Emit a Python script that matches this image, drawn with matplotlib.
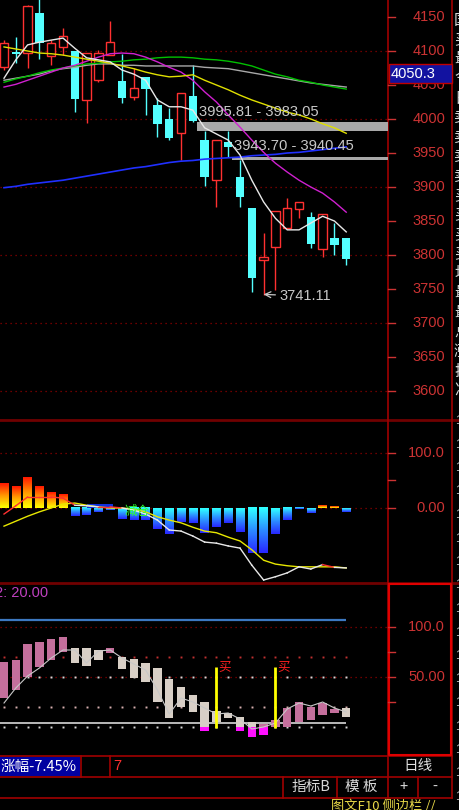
import numpy as np
import matplotlib
matplotlib.use('Agg')
import matplotlib.pyplot as plt
from matplotlib import transforms
from matplotlib.colors import LinearSegmentedColormap

W, H = 460, 810
CJK = ['Noto Sans CJK SC', 'DejaVu Sans']
NUM = 'Liberation Sans'

# daily candles
opens = [4076, 4099, 4097, 4156, 4093, 4106, 4100, 4028, 4057, 4094,
         4056, 4032, 4062, 4021, 4000, 3979, 4034, 3969, 3910, 3966,
         3915, 3869, 3793, 3812, 3840, 3868, 3856, 3809, 3825, 3825]
closes = [4112, 4096, 4166, 4112, 4112, 4122, 4029, 4097, 4097, 4113,
          4031, 4046, 4044, 3993, 3972, 4038, 3997, 3915, 3969, 3959,
          3885, 3766, 3797, 3865, 3869, 3878, 3816, 3860, 3815, 3794]
highs = [4116, 4121, 4168, 4185, 4116, 4134, 4100, 4097, 4101, 4144,
         4096, 4075, 4062, 4031, 4016, 4038, 4079, 3983.05, 3969, 3982,
         3940.45, 3869, 3832, 3865, 3884, 3878, 3863, 3860, 3847, 3825]
lows = [4072, 4082, 4075, 4088, 4079, 4094, 4010, 3994, 4054, 4094,
        4024, 4028, 4006, 3974, 3969, 3940, 3995.81, 3901, 3871, 3943.70,
        3871, 3746, 3741.11, 3749, 3840, 3854, 3810, 3797, 3800, 3785]

ma_white = [4060, 4087, 4109, 4113, 4116, 4119, 4104, 4090, 4087, 4084,
            4072, 4066, 4057, 4028, 4018, 4018, 4013, 3987, 3978, 3969,
            3947, 3910, 3878, 3854, 3837, 3837, 3847, 3857, 3850, 3834]
ma_yellow = [4106, 4103, 4100, 4097, 4096, 4094, 4091, 4088, 4085, 4082,
             4078, 4074, 4069, 4065, 4062, 4063, 4065, 4057, 4050, 4043,
             4035, 4028, 4022, 4016, 4010, 4006, 4000, 3993, 3987, 3979]
ma_magenta = [4047, 4051, 4057, 4063, 4069, 4075, 4079, 4085, 4091, 4096,
              4097, 4096, 4091, 4084, 4076, 4069, 4057, 4040, 4025, 4006,
              3988, 3969, 3951, 3935, 3922, 3910, 3900, 3891, 3878, 3863]
ma_green = [4054, 4059, 4063, 4068, 4072, 4075, 4078, 4081, 4082, 4084,
            4085, 4087, 4088, 4090, 4091, 4091, 4090, 4088, 4087, 4085,
            4082, 4078, 4072, 4066, 4062, 4057, 4054, 4050, 4047, 4044]
ma_gray = [4057, 4060, 4063, 4066, 4071, 4074, 4076, 4079, 4081, 4081,
           4079, 4079, 4078, 4078, 4078, 4078, 4078, 4076, 4075, 4074,
           4071, 4068, 4065, 4062, 4059, 4056, 4053, 4051, 4049, 4047]
ma_blue = [3899, 3901, 3904, 3906, 3908, 3910, 3913, 3916, 3919, 3922,
           3925, 3928, 3930, 3933, 3936, 3938, 3939, 3941, 3942, 3943,
           3944, 3946, 3947, 3948, 3950, 3951, 3953, 3955, 3957, 3959]

gap_idx = [16, 19]
gap_hi = [3995.81, 3943.70]
gap_lo = [3983.05, 3940.45]
low_idx = 22
cursor_price = '4050.3'
price_ticks = [4150, 4100, 4050, 4000, 3950, 3900, 3850, 3800, 3750, 3700, 3650, 3600]

# MACD-like panel
macd_bar = [45, 40, 56, 40, 29, 24, -15, -13, -7, -3, -20, -22, -22, -38, -47,
            -25, -27, -45, -34, -27, -43, -82, -82, -47, -22, -2, -9, 4, 2, -7]
dif = [-11, 4, 20, 20, 20, 18, 5, 4, 2, 2, 0, -4, -11, -22, -40,
       -42, -51, -62, -64, -69, -73, -104, -131, -125, -118, -107, -111, -103, -108, -109]
dea = [-33, -24, -15, -7, 0, 7, 9, 5, 2, 0, 0, -2, -7, -16, -22,
       -27, -35, -42, -45, -53, -60, -76, -95, -102, -105, -107, -107, -107, -107, -109]
blue_seg_x = [7.0, 9.2]
blue_seg_y = [8, 8]

# KDJ-like panel
kdj_top = [65, 67, 83, 85, 88, 90, 79, 79, 77, 79, 70, 68, 64, 59, 48,
           40, 32, 25, 16, 14, 10, 5, 3, 7, 19, 25, 20, 24, 18, 19]
kdj_bot = [29, 37, 50, 60, 67, 75, 64, 61, 67, 74, 58, 49, 45, 25, 9,
           20, 15, -4, 5, 9, -4, -10, -8, 0, 0, 5, 7, 12, 14, 10]
kdj_up = [1, 1, 1, 1, 1, 1, 0, 0, 0, 1, 0, 0, 0, 0, 0,
          0, 0, 0, 0, 0, 0, 0, 1, 1, 1, 1, 1, 1, 1, 0]
kdj_line = [24, 39, 51, 59, 69, 77, 77, 64, 76, 77, 69, 63, 57, 37, 13,
            29, 25, 19, 13, 14, 8, -2, 0, 4, 18, 24, 21, 25, 19, 15]
buy_idx = [18, 23]
kdj_ref_hi = 107
kdj_ref_lo = 4

RED = '#ff3030'
CYAN = '#54ffff'
AXRED = '#cc3333'
FRAME = '#a00000'
n = len(opens)
x = np.arange(n)
bw = 0.72
XLIM = (-0.34, 32.54)

fig = plt.figure(figsize=(W / 100, H / 100), dpi=100, facecolor='black')
bg = fig.add_axes([0, 0, 1, 1], label='bg')
bg.set_xlim(0, W)
bg.set_ylim(H, 0)
bg.axis('off')
bg.set_zorder(0)


def panel(y0, y1, name):
    ax = fig.add_axes([0, 1 - y1 / H, 388 / W, (y1 - y0) / H], label=name)
    ax.axis('off')
    ax.set_zorder(1)
    return ax


def right_axis(ax, ticks, labels, minor=()):
    tr = transforms.blended_transform_factory(ax.transAxes, ax.transData)
    for t, lab in zip(ticks, labels):
        ax.text(1.147, t, lab, transform=tr, ha='right', va='center',
                color=AXRED, fontsize=10.5, family=NUM, clip_on=False)
    for t in list(ticks) + list(minor):
        ax.plot([1.0, 1.018], [t, t], transform=tr, color=AXRED, lw=1, clip_on=False)


# ---------------- price panel ----------------
ax = panel(0, 420, 'price')
for v in [4100, 4000, 3900, 3800, 3700, 3600]:
    ax.axhline(v, color='#900000', ls=(0, (1, 3)), lw=0.9, zorder=0)

for i in x:
    o, c, h, l = opens[i], closes[i], highs[i], lows[i]
    if c >= o:
        ax.vlines(i, c, h, color=RED, lw=1, zorder=3)
        ax.vlines(i, l, o, color=RED, lw=1, zorder=3)
        ax.bar(i, max(c - o, 1.5), bottom=o, width=bw, facecolor='black',
               edgecolor=RED, lw=1, zorder=3)
    else:
        ax.vlines(i, l, h, color=CYAN, lw=1, zorder=3)
        ax.bar(i, o - c, bottom=c, width=bw, color=CYAN, zorder=3)

ax.plot(x, ma_blue, color='#2030ff', lw=1.2, zorder=4)
ax.plot(x, ma_gray, color='#a8a8a8', lw=1, zorder=4)
ax.plot(x, ma_green, color='#00c000', lw=1, zorder=4)
ax.plot(x, ma_magenta, color='#d020d0', lw=1, zorder=4)
ax.plot(x, ma_yellow, color='#e0e000', lw=1, zorder=4)
ax.plot(x, ma_white, color='#e8e8e8', lw=1, zorder=4)

# gap zones
for gi, hi, lo in zip(gap_idx, gap_hi, gap_lo):
    ax.fill_between([gi + 0.32, XLIM[1]], lo, hi, color='#a8a8a8', lw=0, zorder=2)
    ax.text(gi + 0.5, hi + (15 if gi == 16 else 17), f'{hi:.2f} - {lo:.2f}',
            color='#c8c8c8', fontsize=10.6, family=NUM, va='center', ha='left', zorder=5)
ax.annotate(f'{lows[low_idx]:.2f}', xy=(low_idx, lows[low_idx] + 1),
            xytext=(low_idx + 1.35, lows[low_idx] - 1.5), color='#c8c8c8',
            fontsize=10.5, family=NUM, va='center', ha='left',
            arrowprops=dict(arrowstyle='->', color='#c8c8c8', lw=0.9, shrinkA=1, shrinkB=0))
ax.set_xlim(*XLIM)
ax.set_ylim(3557.4, 4175)
right_axis(ax, price_ticks, [str(t) for t in price_ticks])

# ---------------- MACD panel ----------------
ax2 = panel(420, 583, 'macd')
ax2.axhline(100, color='#900000', ls=(0, (1, 3)), lw=0.9, zorder=0)
ax2.axhline(0, color='#900000', ls=(0, (1, 3)), lw=0.9, zorder=0)
pos_cmap = LinearSegmentedColormap.from_list('pos', ['#ffff00', '#ff9900', '#ff1a00'])
neg_cmap = LinearSegmentedColormap.from_list('neg', ['#2828ff', '#2c8cff', '#30ffff'])
grad = np.linspace(0, 1, 32).reshape(-1, 1)
for i, v in enumerate(macd_bar):
    if v >= 0:
        ax2.imshow(grad, cmap=pos_cmap, extent=(i - bw / 2, i + bw / 2, 0, v),
                   origin='lower', aspect='auto', interpolation='bilinear', zorder=1)
    else:
        ax2.imshow(grad, cmap=neg_cmap, extent=(i - bw / 2, i + bw / 2, v, 0),
                   origin='lower', aspect='auto', interpolation='bilinear', zorder=1)
ax2.fill_between(blue_seg_x, 0, blue_seg_y, color='#1030e0', lw=0, zorder=2)
ax2.plot(x, dea, color='#e8e800', lw=1, zorder=3)
for i in range(n - 1):
    col = '#ff3030' if dif[i] + dif[i + 1] > dea[i] + dea[i + 1] else '#e8e8e8'
    ax2.plot([i, i + 1], [dif[i], dif[i + 1]], color=col, lw=1, zorder=4)
ax2.text(11.3, -7, '减仓', color='#30ff30', fontsize=9, family=CJK,
         ha='center', va='center', zorder=5)
ax2.set_xlim(*XLIM)
ax2.set_ylim(-136.4, 160)
right_axis(ax2, [100, 0], ['100.0', '0.00'], minor=[50])

# ---------------- KDJ panel ----------------
ax3 = panel(583, 756, 'kdj')
ax3.axhline(100, color='#900000', ls=(0, (1, 3)), lw=0.9, zorder=0)
ax3.axhline(50, color='#900000', ls=(0, (1, 3)), lw=0.9, zorder=0)
for lvl, col in [(70, '#c03030'), (50, '#d8d8d8'), (20, '#d8b0b0'), (0, '#d8d8d8')]:
    ax3.plot(x, [lvl] * n, ls='none', marker='s', ms=1.4, mew=0, color=col, zorder=1)
ax3.hlines(kdj_ref_hi, XLIM[0], n - 1, color='#3c78c0', lw=1.6, zorder=1)
ax3.hlines(kdj_ref_lo, XLIM[0], n - 1, color='#c8c8c8', lw=1.3, zorder=1)
for i in x:
    top, bot = kdj_top[i], kdj_bot[i]
    col = '#c46f9c' if kdj_up[i] else '#d8cfc6'
    ax3.bar(i, top - bot, bottom=bot, width=bw, color=col, zorder=2)
    if bot < 0:
        ax3.bar(i, min(top, 0) - bot, bottom=bot, width=bw, color='#ff10ff', zorder=2)
ax3.plot(x, kdj_line, color='#c8c8c8', lw=0.8, zorder=3)
ax3.vlines(buy_idx, -1, 60, color='#ffff00', lw=2, zorder=4)
for b in buy_idx:
    ax3.text(b + 0.12, 60, '买', color='#ff2020', fontsize=9, family=CJK,
             ha='left', va='center', zorder=5)
ax3.text(-0.75, 134, '2: 20.00', color='#c040c0', fontsize=10.5, family=NUM,
         ha='left', va='center')
ax3.set_xlim(*XLIM)
ax3.set_ylim(-29, 144)
right_axis(ax3, [100, 50], ['100.0', '50.00'], minor=[75, 25])

# ---------------- frame, status bar ----------------
for y in [420, 583]:
    bg.plot([0, W], [y, y], color='#700000', lw=2)
for y in [756, 777, 798]:
    bg.plot([0, 452], [y, y], color=FRAME, lw=1.2)
bg.plot([388.5, 388.5], [0, 798], color=FRAME, lw=1.2)
bg.plot([452.5, 452.5], [0, 798], color=FRAME, lw=1.2)
bg.plot([389, 451, 451, 389, 389], [584, 584, 755, 755, 584], color='#e00000', lw=1.5)
for xv in [81, 110]:
    bg.plot([xv, xv], [756, 777], color=FRAME, lw=1.2)
for xv in [283, 337, 418]:
    bg.plot([xv, xv], [777, 798], color=FRAME, lw=1.2)

side = '国买最今日卖卖卖卖买买买买均最最总涨换净'
for k, ch in enumerate(side):
    bg.text(454, 20 + 19.5 * k, ch, color='#d8d8d8', fontsize=11, family=CJK,
            ha='left', va='center')
for k in range(17):
    bg.text(455, 421 + 23.5 * k, '1', color='#c8c8c8', fontsize=9, family=NUM,
            ha='left', va='center')

bg.add_patch(plt.Rectangle((0, 757), 80, 19, facecolor='#0000a0', edgecolor='none'))
bg.text(1, 766.5, '涨幅-7.45%', color='white', fontsize=10.5, family=CJK, va='center')
bg.text(113, 766.5, '7', color='#ff3030', fontsize=10.5, family=NUM, va='center')
bg.text(418, 766, '日线', color='#e0e0e0', fontsize=10.5, family=CJK, ha='center', va='center')
for lab, xc in [('指标B', 311), ('模 板', 361), ('+', 404), ('-', 435)]:
    bg.text(xc, 787, lab, color='#d8d8d8', fontsize=10.5, family=CJK, ha='center', va='center')
bg.text(331, 806, '图文F10 侧边栏 //', color='#e8d848', fontsize=9.5, family=CJK, va='center')

fg = fig.add_axes([0, 0, 1, 1], label='fg')
fg.set_xlim(0, W)
fg.set_ylim(H, 0)
fg.axis('off')
fg.set_zorder(10)
fg.add_patch(plt.Rectangle((389, 64), 63, 19, facecolor='#1212a0', edgecolor='#c00000', lw=1))
fg.text(391, 73.5, cursor_price, color='white', fontsize=10.5, family=NUM, va='center')

fig.savefig('out.png', dpi=100, facecolor='black')
